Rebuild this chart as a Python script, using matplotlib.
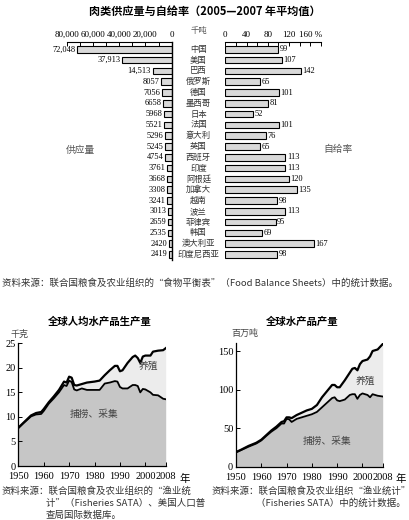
import matplotlib
matplotlib.use("Agg")
import matplotlib.pyplot as plt
from matplotlib.ticker import FixedLocator

plt.rcParams['font.family'] = ['Liberation Serif', 'Noto Sans CJK SC', 'DejaVu Sans']
CJK = ['Noto Sans CJK SC', 'DejaVu Sans']

# ---- meat supply / self-sufficiency (2005-2007 avg) ----
countries = ["中国", "美国", "巴西", "俄罗斯", "德国", "墨西哥", "日本", "法国", "意大利", "英国",
             "西班牙", "印度", "阿根廷", "加拿大", "越南", "波兰", "菲律宾", "韩国", "澳大利亚", "印度尼西亚"]
supply = [72048, 37913, 14513, 8057, 7056, 6658, 5968, 5521, 5296, 5245,
          4754, 3761, 3668, 3308, 3241, 3013, 2659, 2535, 2420, 2419]
self_rate = [99, 107, 142, 65, 101, 81, 52, 101, 76, 65,
             113, 113, 120, 135, 98, 113, 95, 69, 167, 98]

# ---- per-capita fish production (kg) ----
pc_years = [1950, 1952, 1955, 1957, 1959, 1960, 1962, 1964, 1966, 1968, 1969, 1970, 1971, 1972,
            1973, 1975, 1977, 1980, 1982, 1984, 1986, 1988, 1989, 1990, 1991, 1993, 1995, 1996,
            1997, 1998, 1999, 2000, 2002, 2003, 2005, 2007, 2008]
pc_total = [7.8, 8.8, 10.3, 10.8, 11.0, 11.6, 13.0, 14.2, 15.5, 17.2, 17.0, 18.2, 18.0, 16.5,
            16.4, 16.7, 17.0, 17.2, 17.4, 18.5, 19.5, 20.4, 20.4, 19.3, 19.5, 21.0, 22.2, 22.5,
            22.0, 21.0, 22.3, 22.5, 22.5, 23.3, 23.5, 23.6, 24.0]
pc_capture = [7.7, 8.7, 10.1, 10.5, 10.6, 11.2, 12.7, 13.8, 15.0, 16.5, 16.3, 17.4, 17.1, 15.6,
              15.4, 15.8, 15.5, 15.5, 15.5, 16.8, 17.0, 17.3, 17.2, 16.1, 15.8, 15.8, 16.5, 16.5,
              16.3, 15.0, 15.7, 15.6, 15.0, 14.5, 14.4, 13.7, 13.6]

# ---- world fish production (million t) ----
w_years = [1950, 1952, 1955, 1958, 1960, 1962, 1964, 1966, 1968, 1969, 1970, 1971, 1972, 1974,
           1976, 1978, 1980, 1982, 1984, 1986, 1988, 1989, 1990, 1991, 1993, 1995, 1996, 1997,
           1998, 1999, 2000, 2002, 2003, 2004, 2006, 2008]
w_total = [19, 22, 27, 31, 35, 41, 47, 52, 58, 59, 64, 64, 63, 67, 70, 73, 75, 80, 90, 98,
           106, 106, 103, 103, 112, 122, 127, 128, 125, 133, 137, 139, 143, 150, 152, 159]
w_capture = [18.5, 21.5, 26, 30, 34, 40, 45.5, 50, 56, 56, 62, 61.5, 58, 62, 64, 66, 68, 71,
             77, 83, 89, 90, 86, 85, 87, 93, 94, 94, 88, 93, 95, 93, 90, 94, 92, 91]

year_ticks = [1950, 1960, 1970, 1980, 1990, 2000, 2008]

W, H = 410, 520
fig = plt.figure(figsize=(W / 100, H / 100), dpi=100)


def px_axes(x0, y0, x1, y1):
    return fig.add_axes([x0 / W, 1 - y1 / H, (x1 - x0) / W, (y1 - y0) / H])


def px_text(x, y, s, **kw):
    fig.text(x / W, 1 - y / H, s, **kw)


px_text(205, 11, "肉类供应量与自给率（2005—2007 年平均值）", ha="center", va="center",
        fontsize=8, fontweight="bold", family=CJK)

n = len(countries)
rows = list(range(n))
ylim = (n - 0.49, -0.68)

# left: supply
axl = px_axes(66.7, 42, 171.7, 260)
axl.barh(rows, supply, height=0.62, color="#d9d9d9", edgecolor="black", linewidth=0.8)
axl.set_xlim(80000, 0)
axl.set_ylim(*ylim)
for s in ["left", "bottom"]:
    axl.spines[s].set_visible(False)
axl.spines["top"].set_linewidth(0.8)
axl.spines["right"].set_linewidth(1.0)
axl.xaxis.tick_top()
axl.xaxis.set_major_locator(FixedLocator([80000, 60000, 40000, 20000, 0]))
axl.xaxis.set_minor_locator(FixedLocator([70000, 50000, 30000, 10000]))
axl.set_xticklabels(["80,000", "60,000", "40,000", "20,000", "0"])
axl.tick_params(axis="x", which="both", direction="in", length=3, width=0.7,
                labelsize=6.5, pad=2)
axl.set_yticks([])
for i, v in enumerate(supply):
    lbl = f"{v:,}" if v > 10000 else str(v)
    axl.text(v + 1200, i, lbl, ha="right", va="center", fontsize=6)

# right: self-sufficiency
axr = px_axes(225.3, 42, 320.7, 260)
axr.barh(rows, self_rate, height=0.62, color="#d9d9d9", edgecolor="black", linewidth=0.8)
axr.set_xlim(0, 180)
axr.set_ylim(*ylim)
for s in ["left", "bottom", "right"]:
    axr.spines[s].set_visible(False)
axr.spines["top"].set_linewidth(0.8)
axr.xaxis.tick_top()
axr.xaxis.set_major_locator(FixedLocator([0, 40, 80, 120, 160]))
axr.xaxis.set_minor_locator(FixedLocator([20, 60, 100, 140, 180]))
axr.set_xticklabels(["0", "40", "80", "120", "160 %"])
axr.tick_params(axis="x", which="both", direction="in", length=3, width=0.7,
                labelsize=6.5, pad=2)
axr.set_yticks([])
for i, v in enumerate(self_rate):
    axr.text(v + 3, i, str(v), ha="left", va="center", fontsize=6)

# country names in the middle
for i, c in enumerate(countries):
    px_text(198.5, 49.3 + 10.8 * i, c, ha="center", va="center", fontsize=6, family=CJK,
            color="#333333")
px_text(198.5, 31, "千吨", ha="center", va="center", fontsize=6, family=CJK, color="#555555")
px_text(80, 150, "供应量", ha="center", va="center", fontsize=7, family=CJK, color="#555555")
px_text(338, 149, "自给率", ha="center", va="center", fontsize=7, family=CJK, color="#555555")

px_text(2, 283, "资料来源：联合国粮食及农业组织的“食物平衡表”（Food Balance Sheets）中的统计数据。",
        ha="left", va="center", fontsize=6.8, family=CJK, color="#333333")


def fish_panel(ax, years, total, capture, ymax, yticks):
    ax.fill_between(years, 0, capture, color="#c6c6c6", linewidth=0)
    ax.fill_between(years, capture, total, color="#ececec", linewidth=0)
    ax.plot(years, total, color="black", linewidth=1.6)
    ax.plot(years, capture, color="black", linewidth=1.3)
    ax.set_xlim(1950, 2008)
    ax.set_ylim(0, ymax)
    ax.set_xticks(year_ticks)
    ax.set_yticks(yticks)
    for s in ["top", "right"]:
        ax.spines[s].set_visible(False)
    ax.spines["left"].set_linewidth(0.9)
    ax.spines["bottom"].set_linewidth(0.9)
    ax.tick_params(direction="in", length=3, width=0.7, labelsize=7.5, pad=2)
    ax.tick_params(axis="x", pad=4.5)
    ax.set_facecolor("white")


# per-capita
ax1 = px_axes(18.3, 343.3, 165.7, 466)
fish_panel(ax1, pc_years, pc_total, pc_capture, 25, [0, 5, 10, 15, 20, 25])
ax1.text(2001, 20.5, "养殖", ha="center", va="center", fontsize=7, family=CJK, color="#444444")
ax1.text(1980, 10.5, "捕捞、采集", ha="center", va="center", fontsize=7, family=CJK,
         color="#444444")
px_text(100, 322, "全球人均水产品生产量", ha="center", va="center", fontsize=7.5,
        fontweight="bold", family=CJK)
px_text(20, 334, "千克", ha="center", va="center", fontsize=6.5, family=CJK, color="#444444")
px_text(180, 479, "年", ha="left", va="center", fontsize=7.5, family=CJK)

# world total
ax2 = px_axes(236, 343.3, 382.7, 466.7)
fish_panel(ax2, w_years, w_total, w_capture, 160, [0, 50, 100, 150])
ax2.text(2001, 112, "养殖", ha="center", va="center", fontsize=7, family=CJK, color="#444444")
ax2.text(1986, 33, "捕捞、采集", ha="center", va="center", fontsize=7, family=CJK,
         color="#444444")
px_text(302, 322, "全球水产品产量", ha="center", va="center", fontsize=7.5,
        fontweight="bold", family=CJK)
px_text(245, 333, "百万吨", ha="center", va="center", fontsize=6.5, family=CJK, color="#444444")
px_text(396, 479, "年", ha="left", va="center", fontsize=7.5, family=CJK)

# sources
src_kw = dict(ha="left", va="center", fontsize=6.8, family=CJK, color="#333333")
px_text(2, 491, "资料来源：联合国粮食及农业组织的“渔业统", **src_kw)
px_text(46, 503, "计”（Fisheries SATA）、美国人口普", **src_kw)
px_text(46, 515, "查局国际数据库。", **src_kw)
px_text(212, 491, "资料来源：联合国粮食及农业组织“渔业统计”", **src_kw)
px_text(256, 503, "（Fisheries SATA）中的统计数据。", **src_kw)

fig.savefig("out.png", dpi=100, facecolor="white")
